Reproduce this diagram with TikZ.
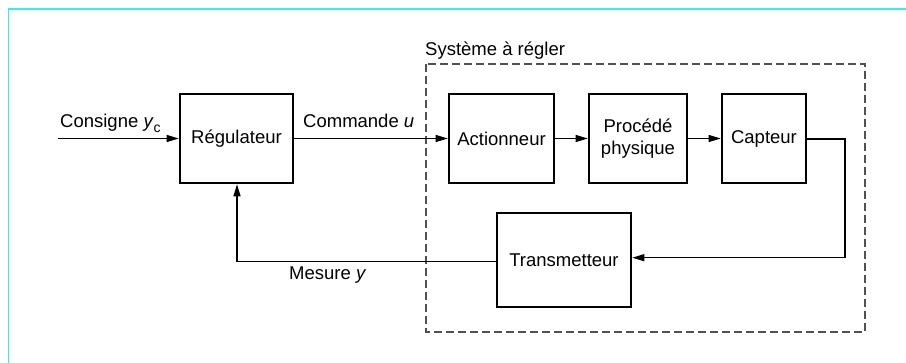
\documentclass[tikz,border=0pt]{standalone}
\usepackage{fontspec}
\setmainfont{Liberation Sans}
\usetikzlibrary{arrows.meta}
\definecolor{framecyan}{RGB}{50,238,245}
\definecolor{dashgrey}{RGB}{80,80,80}
\begin{document}
\begin{tikzpicture}[x=1pt,y=-1pt,
  blk/.style={draw=black,line width=2.6pt,minimum height=89pt,inner sep=0pt,align=center,font=\fontsize{18.5}{22}\selectfont},
  conn/.style={draw=black,line width=1.2pt},
  arr/.style={conn,-{Triangle[length=12pt,width=7pt]}},
  lbl/.style={anchor=base west,inner sep=0pt,font=\fontsize{18.5}{22}\selectfont}]
\useasboundingbox (0,0) rectangle (906,363);
\fill[white] (0,0) rectangle (906,363);
\draw[framecyan,line width=1.6pt] (8.5,363) -- (8.5,9) -- (906,9);
% dashed system frame
\draw[dashgrey,line width=1.2pt,dash pattern=on 8pt off 4pt] (426,64) rectangle (865,332);
\node[lbl] (sys) at (425,56) {Système à régler};
% blocks
\node[blk,minimum width=113pt] (reg) at (236.5,138.5) {Régulateur};
\node[blk,minimum width=105pt] (act) at (501.5,138.5) {Actionneur};
\node[blk,minimum width=98pt] (proc) at (638,138.5) {Procédé\\physique};
\node[blk,minimum width=84pt] (cap) at (764,138.5) {Capteur};
\node[blk,minimum width=134pt,minimum height=94pt] (tra) at (564,260) {Transmetteur};
% input
\coordinate (in) at (58,138.5);
\draw[arr] (in) -- (reg.west);
\node[lbl] (lcons) at (60,128) {Consigne \textit{y}\raisebox{-0.45ex}{\fontsize{14}{16}\selectfont c}};
% forward chain
\draw[arr] (reg.east) -- (act.west);
\node[lbl] (lcom) at (303,128) {Commande \textit{u}};
\draw[arr] (act.east) -- (proc.west);
\draw[arr] (proc.east) -- (cap.west);
% to transmetteur
\coordinate (c1) at (845,139);
\coordinate (c2) at (845,257.7);
\draw[conn] (cap.east |- c1) -- (c1) -- (c2);
\draw[arr] (c2) -- (tra.east |- c2);
% feedback
\coordinate (f1) at (237,261.7);
\draw[arr] (tra.west |- f1) -- (f1) -- (reg.south -| f1);
\node[lbl] (lmes) at (289,280) {Mesure \textit{y}};
\end{tikzpicture}
\end{document}
